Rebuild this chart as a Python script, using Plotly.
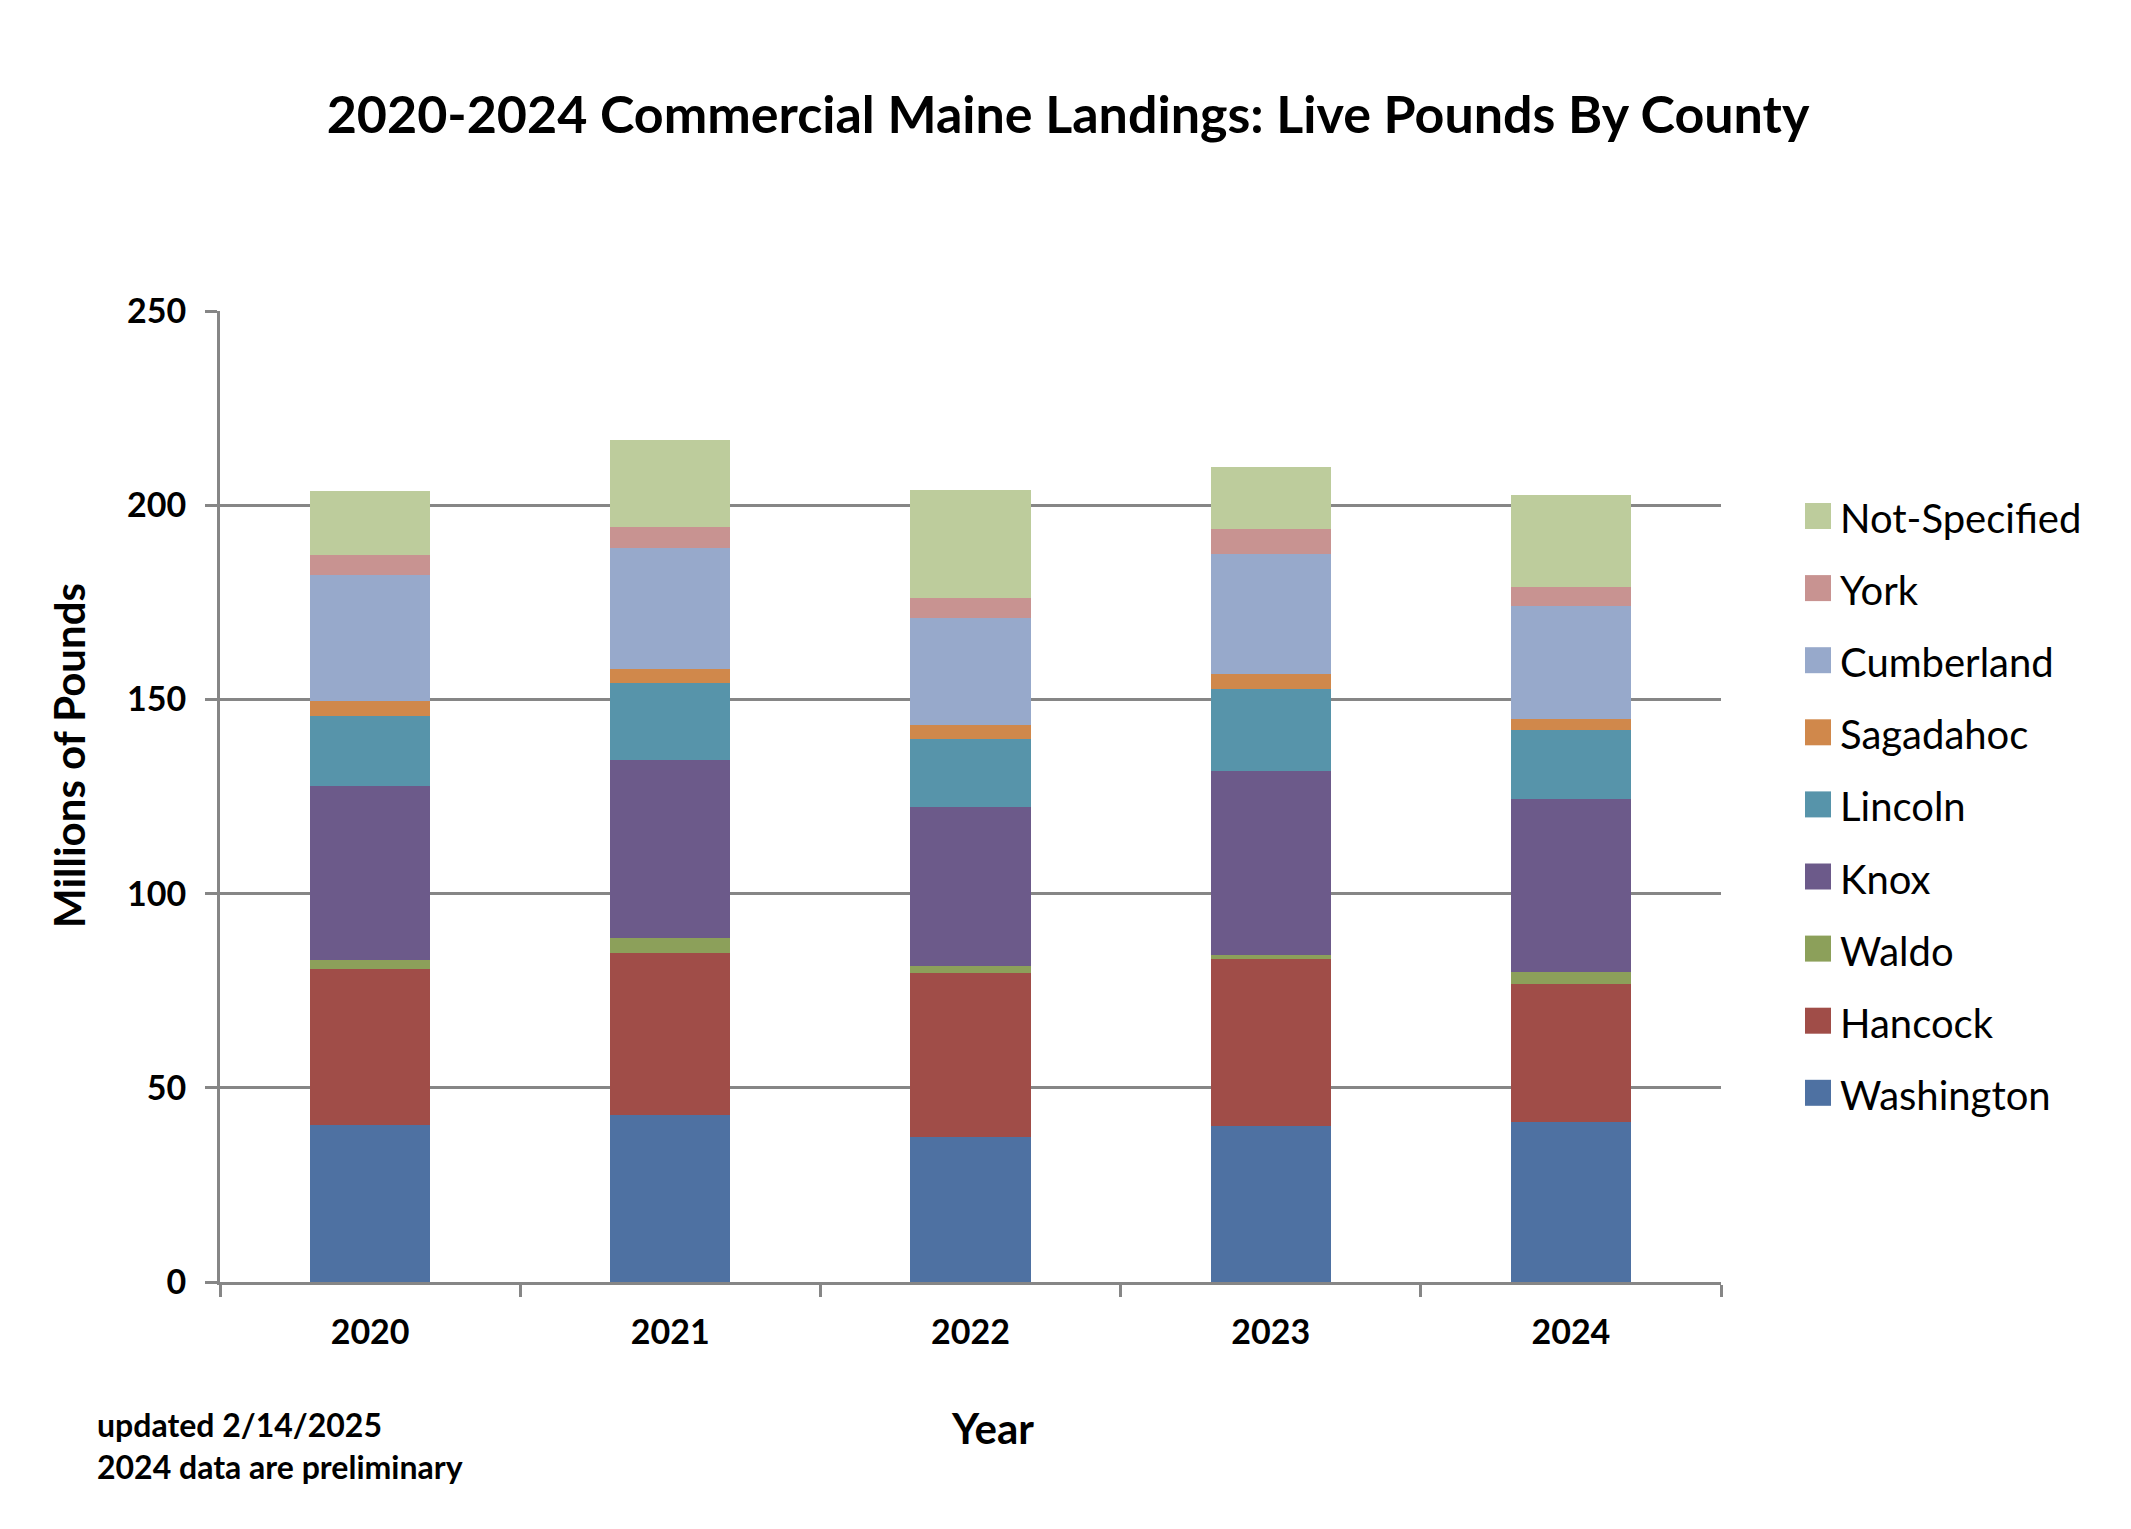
import plotly.graph_objects as go

years = ["2020", "2021", "2022", "2023", "2024"]
counties = ["Washington", "Hancock", "Waldo", "Knox", "Lincoln",
            "Sagadahoc", "Cumberland", "York", "Not-Specified"]
washington = [40.3, 43.1, 37.4, 40.1, 41.2]
hancock = [40.2, 41.7, 42.2, 43.1, 35.5]
waldo = [2.4, 3.8, 1.8, 1.1, 3.1]
knox = [44.9, 45.7, 41.0, 47.3, 44.6]
lincoln = [18.0, 20.0, 17.5, 21.1, 17.7]
sagadahoc = [3.8, 3.6, 3.6, 3.8, 2.8]
cumberland = [32.5, 31.1, 27.4, 30.9, 29.1]
york = [5.1, 5.4, 5.1, 6.5, 4.9]
not_specified = [16.4, 22.4, 27.8, 16.0, 23.8]
series = [washington, hancock, waldo, knox, lincoln,
          sagadahoc, cumberland, york, not_specified]
colors = ["#4E71A2", "#A04D48", "#8CA05A", "#6C5A8A", "#5794AA",
          "#D0884B", "#97A9CB", "#C89391", "#BDCC9C"]

W, H = 2131, 1529
L, R, T, B = 220, 1721, 311, 1282
FONT = "Lato"
GRAY = "#868686"

def px(x):
    return (x - L) / (R - L)

def py(y):
    return (B - y) / (B - T)

fig = go.Figure()
for name, vals, col in zip(counties, series, colors):
    fig.add_trace(go.Bar(x=years, y=vals, name=name, marker_color=col,
                         marker_line_width=0, width=0.4, showlegend=False))

shapes = []
annotations = []
# manual legend (top item first)
for k, (name, col) in enumerate(zip(reversed(counties), reversed(colors))):
    cy = 516 + 72.1 * k
    shapes.append(dict(type="rect", xref="paper", yref="paper",
                       x0=px(1805), x1=px(1831), y0=py(cy + 13), y1=py(cy - 13),
                       fillcolor=col, line_width=0))
    annotations.append(dict(text=name, xref="paper", yref="paper",
                            x=px(1838), y=py(cy + 2), xanchor="left", yanchor="middle",
                            showarrow=False,
                            font=dict(family=FONT, size=40, color="#000000")))

annotations.append(dict(text="Millions of Pounds", xref="paper", yref="paper",
                        x=px(69), y=py(756), textangle=-90, showarrow=False,
                        xanchor="center", yanchor="middle",
                        font=dict(family=FONT, size=42, color="#000", weight="bold")))
annotations.append(dict(text="Year", xref="paper", yref="paper",
                        x=px(992), y=py(1428), showarrow=False,
                        xanchor="center", yanchor="middle",
                        font=dict(family=FONT, size=42, color="#000", weight="bold")))
annotations.append(dict(text="updated 2/14/2025",
                        xref="paper", yref="paper", align="left",
                        x=px(95), y=py(1424), showarrow=False,
                        xanchor="left", yanchor="middle",
                        font=dict(family=FONT, size=32, color="#000", weight="bold")))
annotations.append(dict(text="2024 data are preliminary",
                        xref="paper", yref="paper", align="left",
                        x=px(95), y=py(1466), showarrow=False,
                        xanchor="left", yanchor="middle",
                        font=dict(family=FONT, size=32, color="#000", weight="bold")))

fig.update_layout(
    width=W, height=H,
    margin=dict(l=L, r=W - R, t=T, b=H - B, pad=0),
    paper_bgcolor="white", plot_bgcolor="white",
    barmode="stack", bargap=0.6,
    title=dict(text="2020-2024 Commercial Maine Landings: Live Pounds By County",
               x=1068 / W, xanchor="center", y=1 - 115 / H, yanchor="middle",
               font=dict(family=FONT, size=52, color="#000", weight="bold")),
    shapes=shapes, annotations=annotations,
    xaxis=dict(type="category", tickson="boundaries", ticks="outside", ticklen=12,
               tickwidth=3, tickcolor=GRAY, showline=True, linecolor=GRAY, linewidth=3,
               showgrid=False, ticklabelstandoff=18,
               tickfont=dict(family=FONT, size=34, color="#000", weight="bold")),
    yaxis=dict(range=[0, 250], dtick=50, ticks="outside", ticklen=12, tickwidth=3,
               tickcolor=GRAY, showline=True, linecolor=GRAY, linewidth=3,
               showgrid=True, gridcolor=GRAY, gridwidth=3, zeroline=False,
               ticklabelstandoff=12,
               tickfont=dict(family=FONT, size=34, color="#000", weight="bold")),
)

fig.write_html("out.html", config={"displayModeBar": False},
               post_script="document.body.style.margin='0';")
